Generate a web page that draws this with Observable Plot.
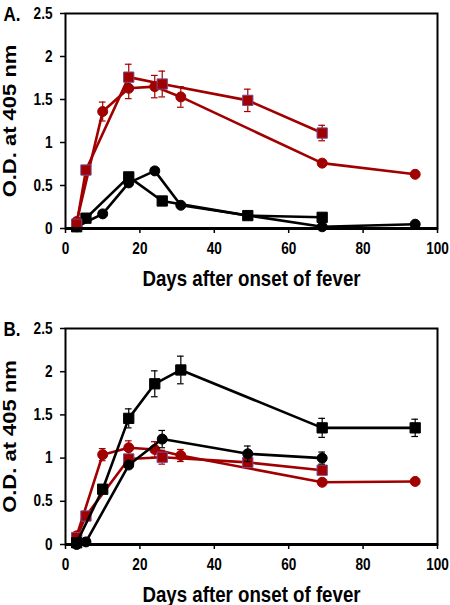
<!DOCTYPE html>
<html>
<head>
<meta charset="utf-8">
<script src="https://cdn.jsdelivr.net/npm/d3@7"></script>
<script src="https://cdn.jsdelivr.net/npm/@observablehq/plot@0.6"></script>
<style>
  body { margin: 0; background: #fff; }
  #chart svg { display: block; }
</style>
</head>
<body>
<div id="chart"></div>
<script>
// Sampling days
const daysSq = [3, 5.5, 17, 26, 49, 69];
const daysCi = [3, 10, 17, 24, 31, 69, 94];
const xTicks = [0, 20, 40, 60, 80, 100];
const yTicks = [0, 0.5, 1, 1.5, 2, 2.5];
const yTickLabels = ["0", "0.5", "1", "1.5", "2", "2.5"];

// Panel A
const aRedSq = [0.05, 0.68, 1.76, 1.68, 1.49, 1.11];
const aRedSqErr = [0, 0, 0.15, 0.15, 0.13, 0.09];
const aRedCi = [0.08, 1.36, 1.63, 1.65, 1.53, 0.76, 0.63];
const aRedCiErr = [0, 0.11, 0.12, 0.13, 0.12, 0, 0];
const aBlkSq = [0.02, 0.12, 0.60, 0.32, 0.15, 0.13];
const aBlkCi = [0.02, 0.17, 0.53, 0.67, 0.27, 0.02, 0.05];

// Panel B
const bBlkSq = [0.02, 0.64, 1.46, 1.86, 2.02, 1.35, 1.35];      // on daysCi
const bBlkSqErr = [0, 0, 0.11, 0.15, 0.16, 0.11, 0.10];
const bBlkCi = [0.00, 0.03, 0.92, 1.22, 1.05, 1.00];            // on daysSq
const bBlkCiErr = [0, 0, 0, 0.10, 0.09, 0.07];
const bRedCi = [0.10, 1.04, 1.12, 1.10, 1.03, 0.72, 0.73];
const bRedCiErr = [0, 0.07, 0.08, 0.09, 0.07, 0, 0];
const bRedSq = [0.08, 0.33, 0.99, 1.01, 0.95, 0.86];
const bRedSqErr = [0, 0, 0, 0.08, 0, 0];

const RED = "#a00000";
const BLACK = "#000000";
const SQUISH = 0.85; // the reference's lettering is horizontally condensed

function series(days, vals, errs, color, symbol) {
  return {
    color, symbol,
    data: days.map((d, i) => ({day: d, v: vals[i], e: errs ? errs[i] : 0}))
  };
}

function seriesMarks(s) {
  const errData = s.data.filter(d => d.e > 0);
  const r = s.symbol === "square" ? 5.8 : 5;
  return [
    Plot.ruleX(errData, {x: "day", y1: d => d.v - d.e, y2: d => d.v + d.e, stroke: s.color, strokeWidth: 1.2}),
    Plot.ruleY(errData, {y: d => d.v + d.e, x1: d => d.day - 0.9, x2: d => d.day + 0.9, stroke: s.color, strokeWidth: 1.2}),
    Plot.ruleY(errData, {y: d => d.v - d.e, x1: d => d.day - 0.9, x2: d => d.day + 0.9, stroke: s.color, strokeWidth: 1.2}),
    Plot.line(s.data, {x: "day", y: "v", stroke: s.color, strokeWidth: 2.6}),
    Plot.dot(s.data, {x: "day", y: "v", symbol: s.symbol, r, fill: s.color,
      stroke: s.color === RED && s.symbol === "square" ? "#7a4a8a" : s.color, strokeWidth: 1})
  ];
}

function panel(label, list, height, marginBottom) {
  const svg = Plot.plot({
    width: 450,
    height,
    marginLeft: 65,
    marginRight: 13,
    marginTop: 13,
    marginBottom,
    style: {fontFamily: "'Liberation Sans', Arial, sans-serif", fontWeight: "bold", color: "#000", background: "#fff"},
    x: {domain: [0, 100]},
    y: {domain: [0, 2.5]},
    marks: [
      Plot.axisX(xTicks, {tickSize: 5, tickPadding: 9, fontSize: 16, label: null, strokeWidth: 1.5}),
      Plot.axisY(yTicks, {tickSize: 5, tickPadding: 8, fontSize: 16, label: null, strokeWidth: 1.5,
        tickFormat: d => yTickLabels[yTicks.indexOf(d)]}),
      ...list.flatMap(seriesMarks),
      Plot.frame({stroke: "#000", strokeWidth: 2}),
      Plot.ruleY([0], {stroke: "#000", strokeWidth: 3}),
      Plot.text(["Days after onset of fever"], {frameAnchor: "bottom", lineAnchor: "middle", dy: 50, fontSize: 22, fontWeight: "bold", fill: "#000"}),
      Plot.text(["O.D. at 405 nm"], {frameAnchor: "left", textAnchor: "middle", lineAnchor: "middle", dx: -55, rotate: -90, fontSize: 22, fontWeight: "bold", fill: "#000"}),
      Plot.text([label], {frameAnchor: "top-left", lineAnchor: "middle", dx: -62, dy: 1, textAnchor: "start", fontSize: 20, fontWeight: "bold", fill: "#000"})
    ]
  });
  // condense lettering horizontally, as in the reference
  d3.select(svg).selectAll("text").each(function() {
    const t = this.getAttribute("transform") || "";
    const rotated = /rotate\(-?90\)/.test(t);
    this.setAttribute("transform", t + (rotated ? ` scale(1,${SQUISH})` : ` scale(${SQUISH},1)`));
  });
  return svg;
}

const panelA = panel("A.", [
  series(daysCi, aBlkCi, null, BLACK, "circle"),
  series(daysSq, aBlkSq, null, BLACK, "square"),
  series(daysCi, aRedCi, aRedCiErr, RED, "circle"),
  series(daysSq, aRedSq, aRedSqErr, RED, "square")
], 315, 87);

const panelB = panel("B.", [
  series(daysCi, bRedCi, bRedCiErr, RED, "circle"),
  series(daysSq, bRedSq, bRedSqErr, RED, "square"),
  series(daysSq, bBlkCi, bBlkCiErr, BLACK, "circle"),
  series(daysCi, bBlkSq, bBlkSqErr, BLACK, "square")
], 290, 61);

const chart = document.getElementById("chart");
chart.appendChild(panelA);
chart.appendChild(panelB);
</script>
</body>
</html>
